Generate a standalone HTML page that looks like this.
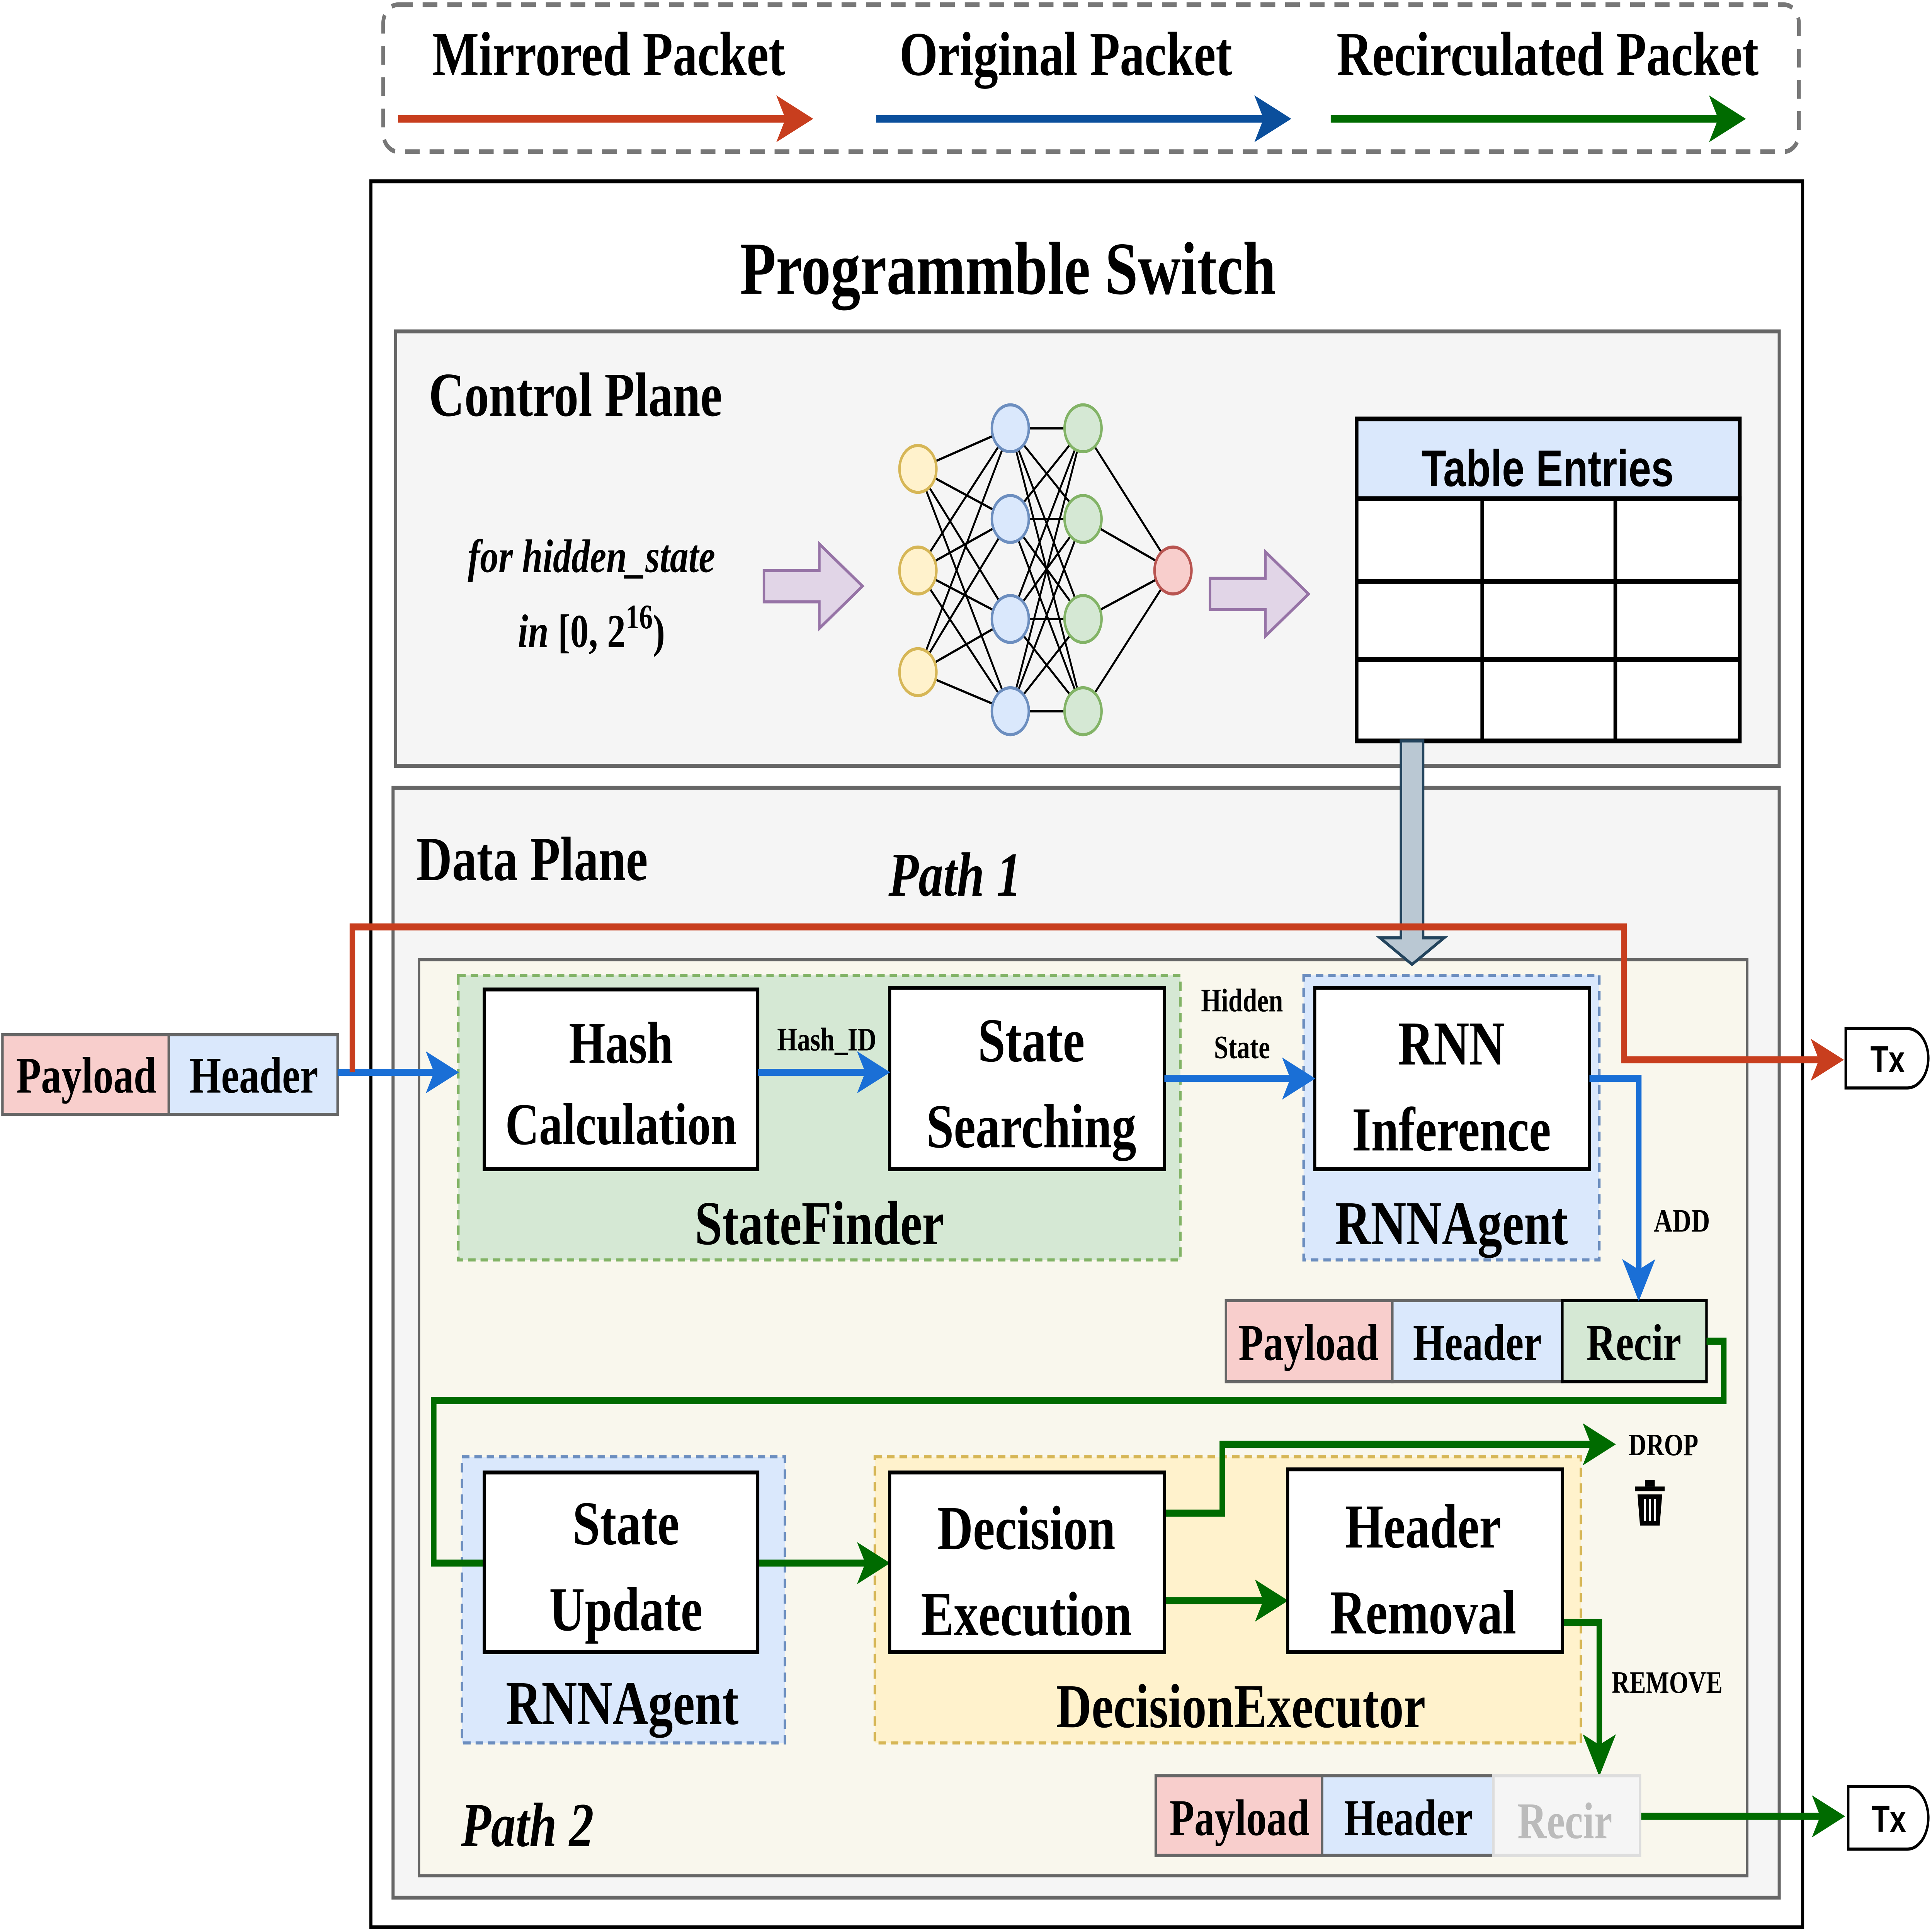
<!DOCTYPE html>
<html><head><meta charset="utf-8"><style>html,body{margin:0;padding:0;background:#fff;width:100vw;height:100vh;overflow:hidden}svg{display:block;position:absolute;left:0;top:0;width:100vw;height:100vh}</style></head><body>
<svg viewBox="0 0 1568 1236" preserveAspectRatio="none" xmlns="http://www.w3.org/2000/svg" font-family="'Liberation Serif', serif" font-weight="bold">
<defs>
<marker id="ar" markerWidth="6" markerHeight="6" refX="5" refY="3" orient="auto" markerUnits="strokeWidth"><path d="M0,0 L6,3 L0,6 L1.5,3 z" fill="#c83e1e"/></marker>
<marker id="ab" markerWidth="6" markerHeight="6" refX="5" refY="3" orient="auto" markerUnits="strokeWidth"><path d="M0,0 L6,3 L0,6 L1.5,3 z" fill="#0b4f9c"/></marker>
<marker id="ab2" markerWidth="6" markerHeight="6" refX="5" refY="3" orient="auto" markerUnits="strokeWidth"><path d="M0,0 L6,3 L0,6 L1.5,3 z" fill="#1a6fd6"/></marker>
<marker id="ag" markerWidth="6" markerHeight="6" refX="5" refY="3" orient="auto" markerUnits="strokeWidth"><path d="M0,0 L6,3 L0,6 L1.5,3 z" fill="#006b00"/></marker>
</defs>
<rect width="1568" height="1236" fill="#fff"/>
<rect x="311" y="3" width="1149" height="94" rx="12" fill="none" stroke="#777" stroke-width="3" stroke-dasharray="12,8"/>
<text x="494" y="48" font-size="40" text-anchor="middle">Mirrored Packet</text>
<text x="865" y="48" font-size="40" text-anchor="middle">Original Packet</text>
<text x="1256" y="48" font-size="40" text-anchor="middle">Recirculated Packet</text>
<line x1="323" y1="76" x2="655" y2="76" stroke="#c83e1e" stroke-width="5" marker-end="url(#ar)"/>
<line x1="711" y1="76" x2="1043" y2="76" stroke="#0b4f9c" stroke-width="5" marker-end="url(#ab)"/>
<line x1="1080" y1="76" x2="1412" y2="76" stroke="#006b00" stroke-width="5" marker-end="url(#ag)"/>
<rect x="301" y="116" width="1162" height="1117" fill="#fff" stroke="#000" stroke-width="2.5"/>
<text x="818" y="188" font-size="48" text-anchor="middle">Programmble Switch</text>
<rect x="321" y="212" width="1123" height="278" fill="#f5f5f5" stroke="#666" stroke-width="2.5"/>
<text x="348" y="266" font-size="40">Control Plane</text>
<text x="480" y="366" font-size="30" font-style="italic" text-anchor="middle">for hidden_state</text>
<text x="480" y="414" font-size="30" text-anchor="middle"><tspan font-style="italic">in</tspan> [0, 2<tspan dy="-12" font-size="22">16</tspan><tspan dy="12">)</tspan></text>
<path d="M620,365 h45 v-17 l35,27 l-35,27 v-17 h-45z" fill="#e1d5e7" stroke="#9673a6" stroke-width="2"/>
<path d="M982,370 h45 v-17 l35,27 l-35,27 v-17 h-45z" fill="#e1d5e7" stroke="#9673a6" stroke-width="2"/>
<g stroke="#000" stroke-width="1.5">
<path d="M745,300 L820,274 M745,300 L820,332 M745,300 L820,396 M745,300 L820,455 M745,365 L820,274 M745,365 L820,332 M745,365 L820,396 M745,365 L820,455 M745,430 L820,274 M745,430 L820,332 M745,430 L820,396 M745,430 L820,455"/>
<path d="M820,274 L879,274 M820,274 L879,332 M820,274 L879,396 M820,274 L879,455 M820,332 L879,274 M820,332 L879,332 M820,332 L879,396 M820,332 L879,455 M820,396 L879,274 M820,396 L879,332 M820,396 L879,396 M820,396 L879,455 M820,455 L879,274 M820,455 L879,332 M820,455 L879,396 M820,455 L879,455"/>
<path d="M879,274 L952,365 M879,332 L952,365 M879,396 L952,365 M879,455 L952,365"/>
</g>
<g stroke-width="2">
<circle cx="745" cy="300" r="15" fill="#fff2cc" stroke="#d6b656"/><circle cx="745" cy="365" r="15" fill="#fff2cc" stroke="#d6b656"/><circle cx="745" cy="430" r="15" fill="#fff2cc" stroke="#d6b656"/>
<circle cx="820" cy="274" r="15" fill="#dae8fc" stroke="#6c8ebf"/><circle cx="820" cy="332" r="15" fill="#dae8fc" stroke="#6c8ebf"/><circle cx="820" cy="396" r="15" fill="#dae8fc" stroke="#6c8ebf"/><circle cx="820" cy="455" r="15" fill="#dae8fc" stroke="#6c8ebf"/>
<circle cx="879" cy="274" r="15" fill="#d5e8d4" stroke="#82b366"/><circle cx="879" cy="332" r="15" fill="#d5e8d4" stroke="#82b366"/><circle cx="879" cy="396" r="15" fill="#d5e8d4" stroke="#82b366"/><circle cx="879" cy="455" r="15" fill="#d5e8d4" stroke="#82b366"/>
<circle cx="952" cy="365" r="15" fill="#f8cecc" stroke="#b85450"/>
</g>
<rect x="1101" y="268" width="311" height="51" fill="#dae8fc" stroke="#000" stroke-width="3"/>
<rect x="1101" y="319" width="311" height="155" fill="#fff" stroke="#000" stroke-width="3"/>
<path d="M1203,319 V474 M1311,319 V474 M1101,372 H1412 M1101,422 H1412" stroke="#000" stroke-width="3"/>
<text x="1256" y="311" font-size="33" text-anchor="middle" font-family="'Liberation Sans', sans-serif">Table Entries</text>
<rect x="319" y="504" width="1125" height="710" fill="#f5f5f5" stroke="#666" stroke-width="2.5"/>
<text x="338" y="563" font-size="40">Data Plane</text>
<text x="775" y="573" font-size="40" font-style="italic" text-anchor="middle">Path 1</text>
<rect x="340" y="614" width="1078" height="586" fill="#f9f7ed" stroke="#666" stroke-width="2"/>
<path d="M1137,474 h18 v126 h17 l-26,17 l-26,-17 h17z" fill="#bac8d3" stroke="#23445d" stroke-width="2"/>
<rect x="372" y="624" width="586" height="182" fill="#d5e8d4" stroke="#82b366" stroke-width="2" stroke-dasharray="6,4"/>
<rect x="393" y="633" width="222" height="115" fill="#fff" stroke="#000" stroke-width="2.5"/>
<text x="504" y="680" font-size="38" text-anchor="middle">Hash</text>
<text x="504" y="732" font-size="38" text-anchor="middle">Calculation</text>
<rect x="722" y="632" width="223" height="116" fill="#fff" stroke="#000" stroke-width="2.5"/>
<text x="837" y="679" font-size="40" text-anchor="middle">State</text>
<text x="837" y="734" font-size="40" text-anchor="middle">Searching</text>
<text x="665" y="796" font-size="40" text-anchor="middle">StateFinder</text>
<text x="671" y="672" font-size="21" text-anchor="middle">Hash_ID</text>
<rect x="1058" y="624" width="240" height="182" fill="#dae8fc" stroke="#6c8ebf" stroke-width="2" stroke-dasharray="6,4"/>
<rect x="1067" y="632" width="223" height="116" fill="#fff" stroke="#000" stroke-width="2.5"/>
<text x="1178" y="681" font-size="40" text-anchor="middle">RNN</text>
<text x="1178" y="736" font-size="40" text-anchor="middle">Inference</text>
<text x="1178" y="796" font-size="40" text-anchor="middle">RNNAgent</text>
<text x="1008" y="647" font-size="21" text-anchor="middle">Hidden</text>
<text x="1008" y="677" font-size="21" text-anchor="middle">State</text>
<rect x="2" y="662" width="135" height="51" fill="#f8cecc" stroke="#666" stroke-width="2"/>
<rect x="137" y="662" width="137" height="51" fill="#dae8fc" stroke="#666" stroke-width="2"/>
<text x="70" y="699" font-size="33" text-anchor="middle">Payload</text>
<text x="206" y="699" font-size="33" text-anchor="middle">Header</text>
<text x="1365" y="788" font-size="21" text-anchor="middle">ADD</text>
<rect x="995" y="832" width="135" height="52" fill="#f8cecc" stroke="#666" stroke-width="2"/>
<rect x="1130" y="832" width="138" height="52" fill="#dae8fc" stroke="#666" stroke-width="2"/>
<rect x="1268" y="832" width="117" height="52" fill="#d5e8d4" stroke="#000" stroke-width="2"/>
<text x="1062" y="870" font-size="33" text-anchor="middle">Payload</text>
<text x="1199" y="870" font-size="33" text-anchor="middle">Header</text>
<text x="1326" y="870" font-size="33" text-anchor="middle">Recir</text>
<rect x="375" y="932" width="262" height="183" fill="#dae8fc" stroke="#6c8ebf" stroke-width="2" stroke-dasharray="6,4"/>
<rect x="710" y="932" width="573" height="183" fill="#fff2cc" stroke="#d6b656" stroke-width="2" stroke-dasharray="6,4"/>
<g fill="none" stroke-width="4.5">
<line x1="274" y1="686" x2="368" y2="686" stroke="#1a6fd6" marker-end="url(#ab2)"/>
<line x1="615" y1="686" x2="718" y2="686" stroke="#1a6fd6" marker-end="url(#ab2)"/>
<line x1="945" y1="690" x2="1063" y2="690" stroke="#1a6fd6" marker-end="url(#ab2)"/>
<polyline points="1290,690 1330,690 1330,828" stroke="#1a6fd6" marker-end="url(#ab2)"/>
<polyline points="286,686 286,593 1318,593 1318,678 1492,678" stroke="#c83e1e" marker-end="url(#ar)"/>
<polyline points="1385,858 1399,858 1399,896 352,896 352,1000 393,1000" stroke="#006b00"/>
<line x1="615" y1="1000" x2="718" y2="1000" stroke="#006b00" marker-end="url(#ag)"/>
<line x1="945" y1="1024" x2="1041" y2="1024" stroke="#006b00" marker-end="url(#ag)"/>
<polyline points="945,968 992,968 992,924 1307,924" stroke="#006b00" marker-end="url(#ag)"/>
<polyline points="1268,1038 1298,1038 1298,1132" stroke="#006b00" marker-end="url(#ag)"/>
<line x1="1331" y1="1162" x2="1493" y2="1162" stroke="#006b00" marker-end="url(#ag)"/>
</g>
<rect x="393" y="942" width="222" height="115" fill="#fff" stroke="#000" stroke-width="2.5"/>
<text x="508" y="988" font-size="40" text-anchor="middle">State</text>
<text x="508" y="1043" font-size="40" text-anchor="middle">Update</text>
<text x="505" y="1103" font-size="40" text-anchor="middle">RNNAgent</text>
<rect x="722" y="942" width="223" height="115" fill="#fff" stroke="#000" stroke-width="2.5"/>
<text x="833" y="991" font-size="40" text-anchor="middle">Decision</text>
<text x="833" y="1046" font-size="40" text-anchor="middle">Execution</text>
<rect x="1045" y="940" width="223" height="117" fill="#fff" stroke="#000" stroke-width="2.5"/>
<text x="1155" y="990" font-size="40" text-anchor="middle">Header</text>
<text x="1155" y="1045" font-size="40" text-anchor="middle">Removal</text>
<text x="1007" y="1105" font-size="40" text-anchor="middle">DecisionExecutor</text>
<path d="M1498,658 h50 a17,19 0 0 1 17,19 a17,19 0 0 1 -17,19 h-50z" fill="#fff" stroke="#000" stroke-width="2"/>
<text x="1532" y="686" font-size="24" text-anchor="middle" font-family="'Liberation Sans', sans-serif">Tx</text>
<text x="1350" y="931" font-size="20" text-anchor="middle">DROP</text>
<g fill="#000"><rect x="1327" y="951" width="24" height="3"/><rect x="1335" y="947" width="8" height="4"/><path d="M1329,956 h20 l-2,20 h-16z"/></g>
<g stroke="#fff" stroke-width="1.5"><line x1="1335" y1="959" x2="1335" y2="973"/><line x1="1339" y1="959" x2="1339" y2="973"/><line x1="1343" y1="959" x2="1343" y2="973"/></g>
<text x="1353" y="1083" font-size="20" text-anchor="middle">REMOVE</text>
<rect x="938" y="1136" width="135" height="51" fill="#f8cecc" stroke="#666" stroke-width="2"/>
<rect x="1073" y="1136" width="139" height="51" fill="#dae8fc" stroke="#666" stroke-width="2"/>
<rect x="1212" y="1136" width="119" height="51" fill="#f5f5f5" stroke="#ddd" stroke-width="2"/>
<text x="1006" y="1174" font-size="33" text-anchor="middle">Payload</text>
<text x="1143" y="1174" font-size="33" text-anchor="middle">Header</text>
<text x="1270" y="1176" font-size="33" text-anchor="middle" fill="#bbb">Recir</text>
<path d="M1500,1143 h48 a17,20 0 0 1 17,20 a17,20 0 0 1 -17,20 h-48z" fill="#fff" stroke="#000" stroke-width="2"/>
<text x="1533" y="1172" font-size="24" text-anchor="middle" font-family="'Liberation Sans', sans-serif">Tx</text>
<text x="428" y="1181" font-size="40" font-style="italic" text-anchor="middle">Path 2</text>
</svg>
</body></html>
